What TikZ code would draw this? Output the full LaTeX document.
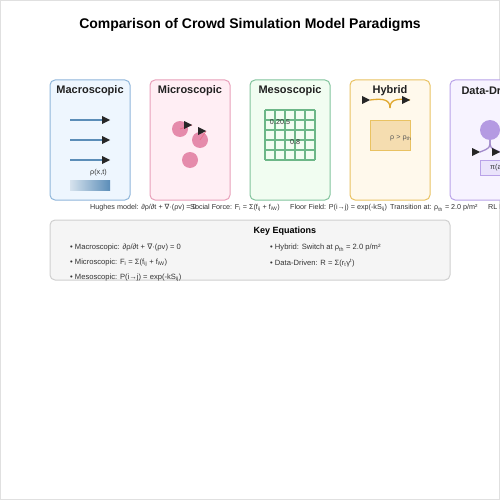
\documentclass[tikz,border=0pt]{standalone}
\usepackage{fontspec}
\setmainfont{Liberation Sans}
\newfontfamily\symfont{DejaVu Sans}
\usetikzlibrary{arrows.meta,positioning}

\definecolor{macroEdge}{HTML}{8FB6DA}
\definecolor{macroFill}{HTML}{EEF6FE}
\definecolor{macroLine}{HTML}{5B8DB8}
\definecolor{microEdge}{HTML}{E8A0BA}
\definecolor{microFill}{HTML}{FFEEF4}
\definecolor{microDot}{HTML}{E58BAB}
\definecolor{mesoEdge}{HTML}{82C49C}
\definecolor{mesoFill}{HTML}{F1FDF1}
\definecolor{mesoGrid}{HTML}{6DB788}
\definecolor{hybEdge}{HTML}{E9C262}
\definecolor{hybFill}{HTML}{FFF9EC}
\definecolor{hybBox}{HTML}{F5DDB0}
\definecolor{hybLine}{HTML}{E0A830}
\definecolor{dataEdge}{HTML}{B9A2E8}
\definecolor{dataFill}{HTML}{F7F3FF}
\definecolor{dataDot}{HTML}{B49AE2}
\definecolor{dataBox}{HTML}{EAE3FB}
\definecolor{keyFill}{HTML}{F5F5F5}
\definecolor{keyEdge}{HTML}{CFCFCF}

\newcommand{\nab}{{\symfont ∇}}
% right-pointing marker whose tip sits on the given point
\newcommand{\tipmark}[1]{\fill[black!85] (#1) -- ++(-8,-4) -- ++(0,8) -- cycle;}

\begin{document}
\begin{tikzpicture}[x=1pt, y=-1pt,
    panel/.style={draw, line width=1pt, rounded corners=5pt, minimum width=80pt, minimum height=120pt, inner sep=0pt},
    paneltitle/.style={font=\fontsize{11}{13}\selectfont\bfseries, text=black!87},
    small/.style={font=\fontsize{7.2}{8}\selectfont, text=black!80, inner sep=0pt},
    keyitem/.style={small, font=\fontsize{7.6}{9}\selectfont, anchor=west},
    dot/.style={circle, fill=microDot, minimum size=16pt, inner sep=0pt}]

  \clip (0,0) rectangle (500,500);
  \draw[black!12, line width=1pt] (0.5,0.5) rectangle (499.5,499.5);

  \node[font=\fontsize{14}{16}\selectfont\bfseries] (title) at (250,25) {Comparison of Crowd Simulation Model Paradigms};

  % panels
  \node[panel, draw=macroEdge, fill=macroFill] (macro) at (90,140) {};
  \node[panel, draw=microEdge, fill=microFill] (micro) at (190,140) {};
  \node[panel, draw=mesoEdge, fill=mesoFill] (meso) at (290,140) {};
  \node[panel, draw=hybEdge, fill=hybFill] (hyb) at (390,140) {};
  \node[panel, draw=dataEdge, fill=dataFill] (data) at (490,140) {};

  \node[paneltitle] (macroT) at (90,91) {Macroscopic};
  \node[paneltitle] (microT) at (190,91) {Microscopic};
  \node[paneltitle] (mesoT) at (290,91) {Mesoscopic};
  \node[paneltitle] (hybT) at (390,91) {Hybrid};
  \node[paneltitle, anchor=west] (dataT) at (458,91) {Data-Driven};

  % macroscopic
  \foreach \y in {120,140,160}{
    \draw[macroLine, line width=1.3pt] (70,\y) -- (104,\y);
    \tipmark{110,\y}
  }
  \node[small, anchor=west] (rho) at (90,173) {ρ(x,t)};
  \shade[left color=macroLine!25, right color=macroLine] (70,180) rectangle (110,190);

  % microscopic
  \node[dot] (p1) at (180,129) {};
  \node[dot] (p2) at (200,140) {};
  \node[dot] (p3) at (190,160) {};
  \coordinate (t1) at (192,125);
  \coordinate (t2) at (206,131);
  \draw[microDot!80!red, line width=0.8pt] (p1.center) -- (t1);
  \draw[microDot!80!red, line width=0.8pt] (p2.center) -- (t2);
  \tipmark{t1}
  \tipmark{t2}

  % mesoscopic
  \foreach \i in {0,...,5}{
    \draw[mesoGrid, line width=1.2pt] (265+10*\i,110) -- (265+10*\i,160);
    \draw[mesoGrid, line width=1.2pt] (265,110+10*\i) -- (315,110+10*\i);
  }
  \node[small] (c1) at (275,122) {0.2};
  \node[small] (c2) at (285,122) {0.5};
  \node[small] (c3) at (295,142) {0.8};

  % hybrid
  \coordinate (cusp) at (390,108);
  \coordinate (hl) at (370,100);
  \coordinate (hr) at (410,100);
  \draw[hybLine, line width=1.3pt] (cusp) .. controls (390,100) and (384,98) .. (hl);
  \draw[hybLine, line width=1.3pt] (cusp) .. controls (390,100) and (396,98) .. (hr);
  \tipmark{hl}
  \tipmark{hr}
  \node[draw=hybEdge, fill=hybBox, line width=1pt, minimum width=40pt, minimum height=30pt, inner sep=0pt] (switch) at (390,135) {};
  \node[small, anchor=west, text=black!65] (thr) at (390,138) {ρ > ρ\textsubscript{th}};

  % data-driven
  \node[circle, fill=dataDot, minimum size=20pt, inner sep=0pt] (agent) at (490,130) {};
  \coordinate (dl) at (480,152);
  \coordinate (dr) at (500,152);
  \draw[dataDot!90!black, line width=1.3pt] (agent.south) .. controls (490,148) .. (dl);
  \draw[dataDot!90!black, line width=1.3pt] (agent.south) .. controls (490,148) .. (dr);
  \tipmark{dl}
  \tipmark{dr}
  \node[draw=dataEdge, fill=dataBox, line width=1pt, minimum width=40pt, minimum height=15pt, inner sep=0pt] (policy) at (500,167.5) {};
  \node[small, anchor=west] (pi) at (490,167.5) {π(a|s)};

  % captions
  \node[small, anchor=west] (cap1) at (90,208) {Hughes model: ∂ρ/∂t + \nab·(ρv) = 0};
  \node[small, anchor=west] (cap2) at (190,208) {Social Force: F\textsubscript{i} = Σ(f\textsubscript{ij} + f\textsubscript{iW})};
  \node[small, anchor=west] (cap3) at (290,208) {Floor Field: P(i→j) = exp(-kS\textsubscript{ij})};
  \node[small, anchor=west] (cap4) at (390,208) {Transition at: ρ\textsubscript{th} = 2.0 p/m²};
  \node[small, anchor=west] (cap5) at (488,208) {RL Policy};

  % key equations
  \node[draw=keyEdge, fill=keyFill, line width=1pt, rounded corners=5pt, minimum width=400pt, minimum height=60pt] (key) at (250,250) {};
  \node[font=\fontsize{9}{11}\selectfont\bfseries, anchor=west] (keyT) at (250,231) {Key Equations};
  \node[keyitem] (k1) at (70,248) {• Macroscopic: ∂ρ/∂t + \nab·(ρv) = 0};
  \node[keyitem] (k2) at (70,263) {• Microscopic: F\textsubscript{i} = Σ(f\textsubscript{ij} + f\textsubscript{iW})};
  \node[keyitem] (k3) at (70,278) {• Mesoscopic: P(i→j) = exp(-kS\textsubscript{ij})};
  \node[keyitem] (k4) at (270,248) {• Hybrid: Switch at ρ\textsubscript{th} = 2.0 p/m²};
  \node[keyitem] (k5) at (270,263) {• Data-Driven: R = Σ(r\textsubscript{t}γ\textsuperscript{t})};

\end{tikzpicture}
\end{document}
